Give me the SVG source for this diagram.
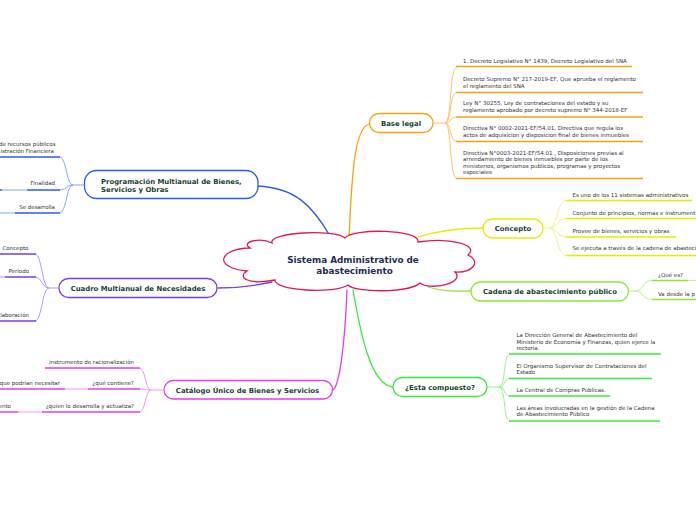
<svg xmlns="http://www.w3.org/2000/svg" width="696" height="520" viewBox="0 0 696 520">
<style>
.node{fill:#fff;stroke-width:1.3}
.nt{font-family:"DejaVu Sans",Verdana,sans-serif;font-weight:bold;font-size:6.9px;fill:#173f2f;text-anchor:middle}
.ct{font-family:"DejaVu Sans",Verdana,sans-serif;font-weight:bold;font-size:8.8px;fill:#1e2d5a;text-anchor:middle}
.t{font-family:"DejaVu Sans",Verdana,sans-serif;font-size:5.5px;fill:#333}
.te{font-family:"DejaVu Sans",Verdana,sans-serif;font-size:5.5px;fill:#333;text-anchor:end}
.c{fill:none;stroke-width:1.3;stroke-linecap:round}
.u{fill:none;stroke-width:1.5}
.b{fill:none;stroke-width:1}
.or{stroke:#f5a30f}.orl{stroke:#f7c46c}
.ye{stroke:#eaea00}.yel{stroke:#f2f27a}
.lg{stroke:#8be836}.lgl{stroke:#bdf28a}
.gr{stroke:#3ce83c}.grl{stroke:#93f093}
.bl{stroke:#2a5de8}.bll{stroke:#86a4f2}
.pu{stroke:#7a3de8}.pul{stroke:#b395f2}
.ma{stroke:#e83ce8}.mal{stroke:#f39af3}
</style>
<rect width="696" height="520" fill="#fff"/>
<g id="connectors">
<path class="c bl" d="M258,186 C295,188 312,205 330,236"/>
<path class="c or" d="M349,237 C352,170 355,128 369,124"/>
<path class="c ye" d="M418,237 C440,230 460,228 483,228"/>
<path class="c lg" d="M428,287 C445,292 455,291 471,291"/>
<path class="c gr" d="M353,290 C360,330 370,385 393,387"/>
<path class="c ma" d="M347,290 C345,340 340,385 333,390"/>
<path class="c pu" d="M272,282 C250,287 235,288 218,288"/>
</g>
<g id="center">
<path d="M272,243 C268,232 335,229 345,238 C352,228 420,229 418,242 C450,237 480,245 468,255 C482,262 472,273 455,272 C466,283 430,291 420,283 C410,293 355,293 348,285 C335,294 274,291 275,280 C250,285 236,278 247,271 C214,268 217,249 250,248 C240,242 260,237 272,243 Z" fill="#fff" stroke="#dc1a5a" stroke-width="1.3"/>
<text class="ct" x="353" y="262.5">Sistema Administrativo de</text>
<text class="ct" x="354.5" y="273.5">abastecimiento</text>
</g>
<g id="base-legal">
<rect class="node or" x="369.5" y="113.5" width="63.5" height="19" rx="9.5"/>
<text class="nt" x="401" y="125.5">Base legal</text>
<path class="b orl" d="M433,123 H445 C452,123 449,67 457,67"/>
<path class="b orl" d="M445,123 C452,123 449,92.5 457,92.5"/>
<path class="b orl" d="M445,123 C452,123 449,117 457,117"/>
<path class="b orl" d="M445,123 C452,123 449,141.5 457,141.5"/>
<path class="b orl" d="M445,123 C452,123 449,178.5 457,178.5"/>
<path class="u or" d="M456,66.5 H632"/>
<path class="u or" d="M456,92.5 H643"/>
<path class="u or" d="M456,117 H643"/>
<path class="u or" d="M456,141.5 H643"/>
<path class="u or" d="M456,178.5 H643"/>
<text class="t" x="463" y="62.7">1. Decreto Legislativo N° 1439, Decreto Legislativo del SNA</text>
<text class="t" x="463" y="81.3">Decreto Supremo N° 217-2019-EF, Que aprueba el reglamento</text>
<text class="t" x="463" y="88">el reglamento del SNA</text>
<text class="t" x="463" y="105.3">Ley N°  30255, Ley de contrataciones del estado y su</text>
<text class="t" x="463" y="112">reglamento aprobado por decreto supremo N° 344-2018-EF</text>
<text class="t" x="463" y="130.3">Directiva N° 0002-2021-EF/54.01, Directiva que regula los</text>
<text class="t" x="463" y="137">actos de adquisicion y disposicion final de bienes inmuebles</text>
<text class="t" x="463" y="154.7">Directiva N°0003-2021-EF/54.01 , Disposiciones previas al</text>
<text class="t" x="463" y="161">arrendamiento de bienes inmuebles por parte de los</text>
<text class="t" x="463" y="167.8">ministerios, organismos publicos, programas y proyectos</text>
<text class="t" x="463" y="174.3">especiales</text>
</g>
<g id="concepto">
<rect class="node ye" x="483" y="219" width="60" height="19" rx="9.5"/>
<text class="nt" x="513" y="231">Concepto</text>
<path class="b yel" d="M543,228 H549 C558,228 556,200.5 567,200.5"/>
<path class="b yel" d="M549,228 C558,228 556,218.5 567,218.5"/>
<path class="b yel" d="M549,228 C558,228 556,237 567,237"/>
<path class="b yel" d="M549,228 C558,228 556,255.5 567,255.5"/>
<path class="u ye" d="M566,200.5 H692"/>
<path class="u ye" d="M566,218.5 H696"/>
<path class="u ye" d="M566,237 H676"/>
<path class="u ye" d="M566,255.5 H696"/>
<text class="t" x="572.5" y="197">Es uno de los 11 sistemas administrativos</text>
<text class="t" x="572.5" y="214.7">Conjunto de principios, normas e instrument</text>
<text class="t" x="572.5" y="232.7">Provee de bienes, servicios y obras</text>
<text class="t" x="572.5" y="250.3">Se ejecuta a través de la cadena de abasteci</text>
</g>
<g id="cadena">
<rect class="node lg" x="471" y="282" width="157.5" height="19" rx="9.5"/>
<text class="nt" x="550" y="294.3">Cadena de abastecimiento público</text>
<path class="b lgl" d="M628.5,291 H634 C645,291 641,280.5 653,280.5"/>
<path class="b lgl" d="M634,291 C645,291 641,299.5 653,299.5"/>
<path class="u lg" d="M652,280.5 H688"/>
<path class="b lgl" d="M688,280.5 H696"/>
<path class="u lg" d="M652,299.5 H696"/>
<text class="t" x="658" y="277">¿Qué es?</text>
<text class="t" x="658" y="296.3">Va desde la p</text>
</g>
<g id="compuesto">
<rect class="node gr" x="393" y="377.5" width="94" height="19" rx="9.5"/>
<text class="nt" x="440" y="389.7">¿Esta compuesto?</text>
<path class="b grl" d="M487,387 H499 C506,387 503,354 510,354"/>
<path class="b grl" d="M499,387 C506,387 503,378.5 510,378.5"/>
<path class="b grl" d="M499,387 C506,387 503,396 510,396"/>
<path class="b grl" d="M499,387 C506,387 503,421 510,421"/>
<path class="u gr" d="M509,354 H661"/>
<path class="u gr" d="M509,378.5 H652"/>
<path class="u gr" d="M509,396 H610"/>
<path class="u gr" d="M509,421 H660"/>
<text class="t" x="516.5" y="337">La Dirección General de Abastecimiento del</text>
<text class="t" x="516.5" y="343.5">Ministerio de Economía y Finanzas, quien ejerce la</text>
<text class="t" x="516.5" y="350">rectoría.</text>
<text class="t" x="516.5" y="367.5">El Organismo Supervisor de Contrataciones del</text>
<text class="t" x="516.5" y="374">Estado</text>
<text class="t" x="516.5" y="392">La Central de Compras Públicas.</text>
<text class="t" x="516.5" y="409.5">Las áreas involucradas en la gestión de la Cadena</text>
<text class="t" x="516.5" y="416">de Abastecimiento Público</text>
</g>
<g id="programacion">
<rect class="node bl" x="84.5" y="170.5" width="173.5" height="28" rx="12"/>
<text class="nt" x="101" y="183.5" style="text-anchor:start">Programación Multianual de Bienes,</text>
<text class="nt" x="101" y="192" style="text-anchor:start">Servicios y Obras</text>
<path class="b bll" d="M84.5,185 H73 C66,185 67,157 59,157"/>
<path class="b bll" d="M73,185 C66,185 67,190 59,190"/>
<path class="b bll" d="M73,185 C66,185 67,213 59,213"/>
<path class="u bl" d="M0,157 H60"/>
<path class="u bl" d="M27,190 H60"/>
<path class="b bll" d="M2,190 H27"/>
<path class="u bl" d="M0,190 H2"/>
<path class="u bl" d="M15,213 H60"/>
<path class="b bll" d="M0,213 H15"/>
<text class="te" x="55.5" y="145.8">de recursos públicos</text>
<text class="te" x="54" y="152.5">istración Financiera</text>
<text class="te" x="55" y="185">Finalidad</text>
<text class="te" x="55" y="208.5">Se desarrolla</text>
</g>
<g id="cuadro">
<rect class="node pu" x="59" y="278.5" width="158" height="19" rx="9.5"/>
<text class="nt" x="138" y="290.7">Cuadro Multianual de Necesidades</text>
<path class="b pul" d="M59,288 H49 C42,288 42,254 35,254"/>
<path class="b pul" d="M49,288 C42,288 42,277 35,277"/>
<path class="b pul" d="M49,288 C42,288 42,321 35,321"/>
<path class="u pu" d="M0,254 H36"/>
<path class="u pu" d="M5,277 H36"/>
<path class="b pul" d="M0,277 H5"/>
<path class="u pu" d="M0,321 H36"/>
<text class="te" x="28.5" y="249.5">Concepto</text>
<text class="te" x="29" y="272.5">Periodo</text>
<text class="te" x="29" y="316.8">laboración</text>
</g>
<g id="catalogo">
<rect class="node ma" x="164" y="380.5" width="168.5" height="18.5" rx="9.25"/>
<text class="nt" x="247.5" y="392.5">Catálogo Único de Bienes y Servicios</text>
<path class="b mal" d="M164,390 H151 C145,390 146,368 139,368"/>
<path class="b mal" d="M151,390 C145,390 146,389 139,389"/>
<path class="b mal" d="M151,390 C145,390 146,412 139,412"/>
<path class="u ma" d="M45,368 H140"/>
<path class="u ma" d="M88,389 H140"/>
<path class="b mal" d="M65,389 H88"/>
<path class="u ma" d="M0,389 H65"/>
<path class="u ma" d="M42,412 H140"/>
<path class="b mal" d="M18,412 H42"/>
<path class="u ma" d="M0,412 H18"/>
<text class="te" x="134" y="364">instrumento de racionalización</text>
<text class="te" x="134" y="385">¿qué contiene?</text>
<text class="te" x="60" y="385">que podrian necesitar</text>
<text class="te" x="134" y="408.3">¿quien lo desarrolla y actualiza?</text>
<text class="te" x="11" y="408.3">ento</text>
</g>
</svg>
